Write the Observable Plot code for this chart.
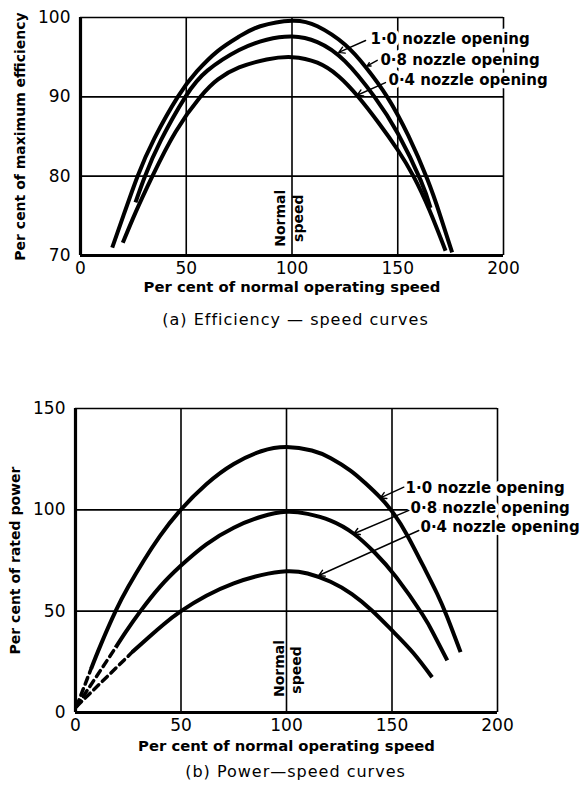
<!DOCTYPE html>
<html>
<head>
<meta charset="utf-8">
<script src="https://cdn.jsdelivr.net/npm/d3@7"></script>
<script src="https://cdn.jsdelivr.net/npm/@observablehq/plot@0.6"></script>
<style>
  html, body { margin: 0; padding: 0; background: #fff; }
  #root { position: relative; width: 587px; height: 794px; overflow: hidden; background: #fff; }
  .panel { position: absolute; left: 0; }
  .cap { position: absolute; left: 0; width: 587px; text-align: center; font-family: 'DejaVu Sans', sans-serif; font-size: 16px; letter-spacing: 1px; color: #000; }
</style>
</head>
<body>
<div id="root">
  <div id="p1" class="panel" style="top:0px"></div>
  <div class="cap" style="top:310px; padding-left:2px">(a) Efficiency — speed curves</div>
  <div id="p2" class="panel" style="top:390px"></div>
  <div class="cap" style="top:762px; padding-left:2px">(b) Power—speed curves</div>
</div>
<script>
// ---------- data: (a) efficiency-speed ----------
const seriesNames = ["1·0", "0·8", "0·4"];
const nozzleLabels = ["1·0 nozzle opening", "0·8 nozzle opening", "0·4 nozzle opening"];

const effX10 = [15, 20, 27, 35, 46, 55, 65, 75, 85, 100, 112, 125, 135, 145, 155, 164, 170, 175.7];
const effY10 = [71, 74.8, 80, 84.8, 90, 93.2, 95.8, 97.6, 98.9, 99.6, 98.9, 96.6, 93.7, 90, 85.1, 79.6, 75.1, 70.4];
const effX08 = [26, 30.5, 38, 49.6, 60, 75, 88, 100, 112, 125, 139, 150, 160.8, 165.5];
const effY08 = [76.7, 80, 84.5, 90, 93.3, 95.9, 97.2, 97.6, 96.9, 94.5, 90, 85.4, 79.5, 76];
const effX04 = [20, 26, 34, 45, 56.7, 65, 75, 88, 100, 112, 122, 131, 141, 150, 157.4, 165, 172.6];
const effY04 = [71.6, 75.4, 80, 85.6, 90, 92.2, 93.7, 94.7, 95, 94.3, 92.6, 90.1, 86.7, 83.3, 80, 75.7, 70.6];

const effTicksX = [0, 50, 100, 150, 200];
const effTicksY = [70, 80, 90, 100];
const effGridX = [50, 100, 150, 200];
const effGridY = [80, 90, 100];

const effLabelX = [137.1, 141.8, 145.6];
const effLabelY = [97.3, 94.6, 92.1];
const effArrowX1 = [134.8, 140.3, 144.2];
const effArrowY1 = [97.1, 94.6, 91.8];
const effArrowX2 = [122.1, 135.6, 130.8];
const effArrowY2 = [95.6, 93.9, 90.2];

// ---------- data: (b) power-speed ----------
const powX10 = [7.4, 12, 19, 25, 32.4, 40, 49, 62, 75, 88, 100, 112, 121, 130.3, 137, 144.5, 150.9, 157.2, 165.1, 171.4, 176.2, 182.5];
const powY10 = [21.6, 33.5, 50, 62, 75, 87, 99, 112.6, 122.6, 128.9, 131, 129.3, 125.5, 119.4, 113.5, 106, 98, 87.5, 71.7, 58.6, 47, 29.8];
const powX08 = [19, 24, 30.8, 40, 50, 62, 75, 88, 100, 110, 120.9, 131.9, 142, 152, 164.3, 170, 176.2];
const powY08 = [32, 40, 50, 62, 72.5, 83, 91.2, 96.6, 99, 98, 94.7, 88.2, 78.7, 66.8, 48.6, 38.2, 25.7];
const powX04 = [26.9, 35, 42, 50, 62, 75, 88, 100, 110, 120.9, 131, 140.6, 150, 160, 169];
const powY04 = [29.8, 37.4, 43.7, 50, 57.6, 63.7, 67.8, 69.7, 68.6, 64.5, 58.4, 50.2, 40.5, 29.5, 17.4];
// dashed low-speed extensions (from the origin to the start of each solid curve)
const powDashStartX = [0.5, 0.5, 0.5];
const powDashStartY = [3, 3, 3];

const powTicksX = [0, 50, 100, 150, 200];
const powTicksY = [0, 50, 100, 150];
const powGridX = [50, 100, 150, 200];
const powGridY = [50, 100, 150];

const powLabelX = [156.4, 158.8, 163.5];
const powLabelY = [110.5, 100.7, 91.3];
const powArrowX1 = [155.6, 158, 162.7];
const powArrowY1 = [111.2, 99.7, 89.8];
const powArrowX2 = [144.5, 131.9, 115.3];
const powArrowY2 = [105.9, 88.2, 67.6];

const normalText = ["Normal", "speed"];
const effNormalX = [94.6, 103];
const effNormalY = [74.7, 74.7];
const powNormalX = [96.7, 104.7];
const powNormalY = [21.7, 21.0];

// ---------- helpers ----------
const FONT = "'DejaVu Sans', sans-serif";
function toRows(xs, ys, s) { return xs.map((x, i) => ({x, y: ys[i], s})); }
function zipLabels(xs, ys, texts) { return xs.map((x, i) => ({x, y: ys[i], t: texts[i]})); }
function zipArrows(x1, y1, x2, y2) { return x1.map((v, i) => ({x1: v, y1: y1[i], x2: x2[i], y2: y2[i]})); }

// ---------- (a) ----------
const effRows = [
  ...toRows(effX10, effY10, seriesNames[0]),
  ...toRows(effX08, effY08, seriesNames[1]),
  ...toRows(effX04, effY04, seriesNames[2])
];

const chartA = Plot.plot({
  width: 587, height: 310,
  marginLeft: 80, marginRight: 84, marginTop: 17, marginBottom: 55,
  x: {domain: [0, 200]},
  y: {domain: [70, 100]},
  style: {fontFamily: FONT, fontSize: "17px", background: "#fff", color: "#000", overflow: "visible"},
  marks: [
    Plot.ruleX(effGridX, {stroke: "#000", strokeWidth: 1.6}),
    Plot.ruleY(effGridY, {stroke: "#000", strokeWidth: 1.6}),
    Plot.ruleX([0], {stroke: "#000", strokeWidth: 3.2}),
    Plot.ruleY([70], {stroke: "#000", strokeWidth: 3.2}),
    Plot.line(effRows, {x: "x", y: "y", z: "s", curve: "natural", stroke: "#000", strokeWidth: 4, strokeLinecap: "butt"}),
    Plot.text(zipLabels(effNormalX, effNormalY, normalText), {x: "x", y: "y", text: "t", rotate: -90, fontSize: 14, fontWeight: "bold", fill: "#000"}),
    Plot.text(zipLabels(effLabelX, effLabelY, nozzleLabels), {x: "x", y: "y", text: "t", textAnchor: "start", fontSize: 15, fontWeight: "bold", fill: "#000", stroke: "#fff", strokeWidth: 7}),
    Plot.arrow(zipArrows(effArrowX1, effArrowY1, effArrowX2, effArrowY2), {x1: "x1", y1: "y1", x2: "x2", y2: "y2", stroke: "#000", strokeWidth: 1.4, headLength: 7}),
    Plot.axisX({ticks: effTicksX, tickSize: 0, tickPadding: 6, label: null, tickFormat: d => String(d)}),
    Plot.axisY({ticks: effTicksY, tickSize: 0, tickPadding: 10, label: null, tickFormat: d => String(d)}),
    Plot.text(["Per cent of normal operating speed"], {frameAnchor: "bottom", dy: 36, text: d => d, textAnchor: "middle", fontSize: 14.8, fontWeight: "bold", fill: "#000"}),
    Plot.text(["Per cent of maximum efficiency"], {frameAnchor: "left", dx: -60, text: d => d, textAnchor: "middle", rotate: -90, fontSize: 14, fontWeight: "bold", fill: "#000"})
  ]
});
document.getElementById("p1").append(chartA);

// ---------- (b) ----------
const powRows = [
  ...toRows(powX10, powY10, seriesNames[0]),
  ...toRows(powX08, powY08, seriesNames[1]),
  ...toRows(powX04, powY04, seriesNames[2])
];
const powDashRows = [
  {x: powDashStartX[0], y: powDashStartY[0], s: seriesNames[0]}, {x: powX10[0], y: powY10[0], s: seriesNames[0]},
  {x: powDashStartX[1], y: powDashStartY[1], s: seriesNames[1]}, {x: powX08[0], y: powY08[0], s: seriesNames[1]},
  {x: powDashStartX[2], y: powDashStartY[2], s: seriesNames[2]}, {x: powX04[0], y: powY04[0], s: seriesNames[2]}
];

const chartB = Plot.plot({
  width: 587, height: 375,
  marginLeft: 75, marginRight: 90, marginTop: 18, marginBottom: 53,
  x: {domain: [0, 200]},
  y: {domain: [0, 150]},
  style: {fontFamily: FONT, fontSize: "17px", background: "#fff", color: "#000", overflow: "visible"},
  marks: [
    Plot.ruleX(powGridX, {stroke: "#000", strokeWidth: 1.6}),
    Plot.ruleY(powGridY, {stroke: "#000", strokeWidth: 1.6}),
    Plot.ruleX([0], {stroke: "#000", strokeWidth: 3.2}),
    Plot.ruleY([0], {stroke: "#000", strokeWidth: 3.2}),
    Plot.line(powRows, {x: "x", y: "y", z: "s", curve: "natural", stroke: "#000", strokeWidth: 4, strokeLinecap: "butt"}),
    Plot.line(powDashRows, {x: "x", y: "y", z: "s", stroke: "#000", strokeWidth: 3.5, strokeDasharray: "7,5"}),
    Plot.text(zipLabels(powNormalX, powNormalY, normalText), {x: "x", y: "y", text: "t", rotate: -90, fontSize: 14, fontWeight: "bold", fill: "#000"}),
    Plot.text(zipLabels(powLabelX, powLabelY, nozzleLabels), {x: "x", y: "y", text: "t", textAnchor: "start", fontSize: 15, fontWeight: "bold", fill: "#000", stroke: "#fff", strokeWidth: 7}),
    Plot.arrow(zipArrows(powArrowX1, powArrowY1, powArrowX2, powArrowY2), {x1: "x1", y1: "y1", x2: "x2", y2: "y2", stroke: "#000", strokeWidth: 1.4, headLength: 7}),
    Plot.axisX({ticks: powTicksX, tickSize: 0, tickPadding: 6, label: null, tickFormat: d => String(d)}),
    Plot.axisY({ticks: powTicksY, tickSize: 0, tickPadding: 10, label: null, tickFormat: d => String(d)}),
    Plot.text(["Per cent of normal operating speed"], {frameAnchor: "bottom", dy: 38, text: d => d, textAnchor: "middle", fontSize: 14.8, fontWeight: "bold", fill: "#000"}),
    Plot.text(["Per cent of rated power"], {frameAnchor: "left", dx: -60, text: d => d, textAnchor: "middle", rotate: -90, fontSize: 14, fontWeight: "bold", fill: "#000"})
  ]
});
document.getElementById("p2").append(chartB);
</script>
</body>
</html>
